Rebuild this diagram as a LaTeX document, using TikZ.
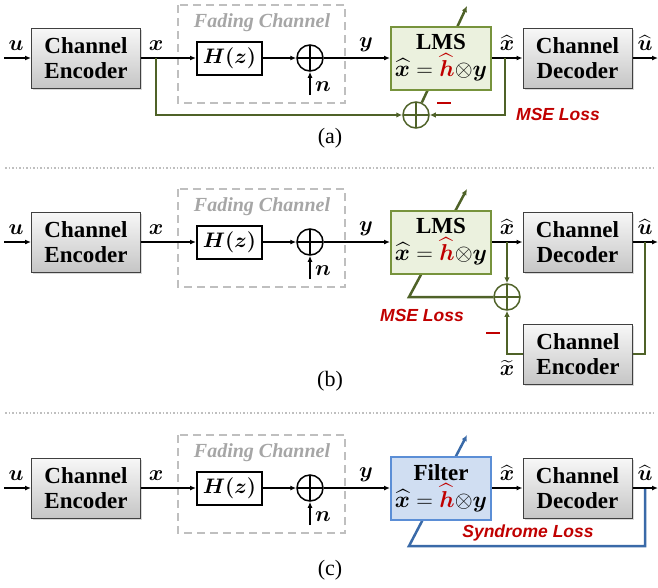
\RequirePackage{fix-cm}
\documentclass[tikz,border=0pt]{standalone}
\usepackage{amsmath,bm}
\usepackage{fontspec}
\setmainfont{Liberation Serif}
\newfontfamily\sansb{Liberation Sans}
\usetikzlibrary{arrows.meta,shadows,backgrounds}
\definecolor{grn}{HTML}{4F6228}
\definecolor{lmsb}{HTML}{77933C}
\definecolor{lmsf}{HTML}{EBF1DE}
\definecolor{blu}{HTML}{3A6AA8}
\definecolor{filb}{HTML}{5B8ED6}
\definecolor{filf}{HTML}{D0DEF2}
\definecolor{lossr}{HTML}{C00000}
\definecolor{fadg}{HTML}{A6A6A6}
\definecolor{sepg}{HTML}{BFBFBF}
\tikzset{
  graybox/.style={draw=black!75, line width=1pt, top color=gray!6, bottom color=gray!45,
    minimum width=109pt, minimum height=60pt, align=center, inner sep=0pt,
    font=\fontsize{23}{25}\selectfont\bfseries,
    drop shadow={shadow xshift=1.5pt, shadow yshift=-1.5pt, opacity=0.3}},
  hbox/.style={draw, line width=2pt, fill=white, minimum width=65pt, minimum height=33pt,
    inner sep=0pt, font=\fontsize{21}{24}\selectfont},
  sum/.style={circle, draw=#1, line width=1.5pt, minimum size=26pt, inner sep=0pt,
    path picture={\draw[#1, line width=1.5pt] (path picture bounding box.north) -- (path picture bounding box.south)
      (path picture bounding box.west) -- (path picture bounding box.east);}},
  sum/.default=black,
  arr/.style={-{Latex[length=6pt,width=5pt]}, line width=1.4pt},
  gline/.style={draw=grn, line width=2.5pt},
  garr/.style={gline, -{Latex[length=6pt,width=5.5pt]}},
  bline/.style={draw=blu, line width=2.5pt},
  barr/.style={bline, -{Latex[length=6pt,width=5.5pt]}},
  lbl/.style={font=\fontsize{22}{24}\selectfont, inner sep=0pt},
  fadebox/.style={draw=sepg, line width=2pt, dash pattern=on 8pt off 5pt},
  fadelbl/.style={text=fadg, font=\fontsize{20}{24}\selectfont\bfseries\itshape, inner sep=0pt},
  fbox/.style={minimum width=100pt, minimum height=63pt, line width=2pt, align=center, inner sep=0pt,
    font=\fontsize{23}{27}\selectfont\bfseries},
  lmsbox/.style={fbox, draw=lmsb, fill=lmsf},
  filtbox/.style={fbox, draw=filb, fill=filf},
  loss/.style={text=lossr, font=\fontsize{17.5}{20}\sansb\bfseries\itshape, inner sep=0pt},
  minus/.style={inner sep=0pt, text=lossr},
  plbl/.style={font=\fontsize{22}{24}\selectfont, inner sep=0pt},
  sep/.style={draw=sepg, line width=1.5pt, dotted},
}
\newcommand\commonpanel{%
  \draw[fadebox] (178,-53) rectangle (345,45);
  \node[fadelbl] (fl) at (262,-35) {Fading Channel};
  \coordinate (in) at (4,0);
  \node[graybox] (enc) at (86,0) {Channel\\Encoder};
  \node[hbox] (H) at (229.5,0) {$\bm{H(z)}$};
  \node[sum] (s1) at (310,0) {};
  \coordinate (nin) at (310,37);
  \draw[arr] (in) -- (enc);
  \draw[arr] (enc) -- (H);
  \draw[arr] (H) -- (s1);
  \draw[arr] (nin) -- (s1);
  \node[lbl] (lu) at (16,-12) {$\bm{u}$};
  \node[lbl] (lx) at (156,-12) {$\bm{x}$};
  \node[lbl] (ln) at (323,29) {$\bm{n}$};
  \node[lbl] (ly) at (366,-13) {$\bm{y}$};
  \node[graybox] (dec) at (577.5,0) {Channel\\Decoder};
  \coordinate (out) at (658,0);
  \node[lbl] (lxh) at (507,-15) {$\widehat{\bm{x}}$};
  \node[lbl] (luh) at (645,-15) {$\widehat{\bm{u}}$};
}
\newcommand\filtertext{$\widehat{\bm{x}}=\textcolor{lossr}{\widehat{\bm{h}}}{\otimes}\bm{y}$}
\begin{document}
\begin{tikzpicture}[x=1pt,y=-1pt]
\useasboundingbox (0,0) rectangle (658,587);
% separators
\draw[sep] (5,168) -- (655,168);
\draw[sep] (5,413) -- (655,413);
% ---------------- (a)
\begin{scope}[shift={(0,58)}, name prefix=a-]
  \commonpanel
  \node[lmsbox] (F) at (441,0) {LMS\\\filtertext};
  \draw[arr] (s1) -- (F);
  \draw[arr] (F) -- (dec);
  \draw[arr] (dec) -- (out);
  \node[sum=grn] (s2) at (416,57) {};
  \coordinate (jx) at (156,0);
  \coordinate (jxh) at (505,0);
  \coordinate (tip) at (467,-52);
  \draw[garr] (jx) |- (s2);
  \draw[garr] (jxh) |- (s2);
  \begin{pgfonlayer}{background}
    \draw[garr] (s2) -- (tip);
  \end{pgfonlayer}
  \node[minus] (m) at (444,45) {\rule{14pt}{1.2pt}};
  \node[loss] (lo) at (558,56) {MSE Loss};
  \node[plbl] (pl) at (330,80) {(a)};
\end{scope}
% ---------------- (b)
\begin{scope}[shift={(0,242)}, name prefix=b-]
  \commonpanel
  \node[lmsbox] (F) at (441,0) {LMS\\\filtertext};
  \draw[arr] (s1) -- (F);
  \draw[arr] (F) -- (dec);
  \draw[arr] (dec) -- (out);
  \node[sum=grn] (s2) at (507,55) {};
  \node[graybox] (enc2) at (578,112) {Channel\\Encoder};
  \coordinate (jxh) at (507,0);
  \coordinate (juh) at (645,0);
  \coordinate (corner) at (409,55);
  \coordinate (tip) at (467,-53);
  \draw[garr] (jxh) -- (s2);
  \draw[gline] (juh) |- (enc2);
  \draw[garr] (enc2) -| (s2);
  \begin{pgfonlayer}{background}
    \draw[garr] (s2) -- (corner) -- (tip);
  \end{pgfonlayer}
  \node[lbl] (lxt) at (507,126) {$\widetilde{\bm{x}}$};
  \node[minus] (m) at (493,91) {\rule{14pt}{1.2pt}};
  \node[loss] (lo) at (422,73) {MSE Loss};
  \node[plbl] (pl) at (330,139) {(b)};
\end{scope}
% ---------------- (c)
\begin{scope}[shift={(0,488)}, name prefix=c-]
  \commonpanel
  \node[filtbox] (F) at (441,0) {Filter\\\filtertext};
  \draw[arr] (s1) -- (F);
  \draw[arr] (F) -- (dec);
  \draw[arr] (dec) -- (out);
  \coordinate (juh) at (645,0);
  \coordinate (corner) at (409,58);
  \coordinate (tip) at (467,-53);
  \begin{pgfonlayer}{background}
    \draw[barr] (juh) |- (corner) -- (tip);
  \end{pgfonlayer}
  \node[loss] (lo) at (528,45) {Syndrome Loss};
  \node[plbl] (pl) at (330,82) {(c)};
\end{scope}
\end{tikzpicture}
\end{document}
